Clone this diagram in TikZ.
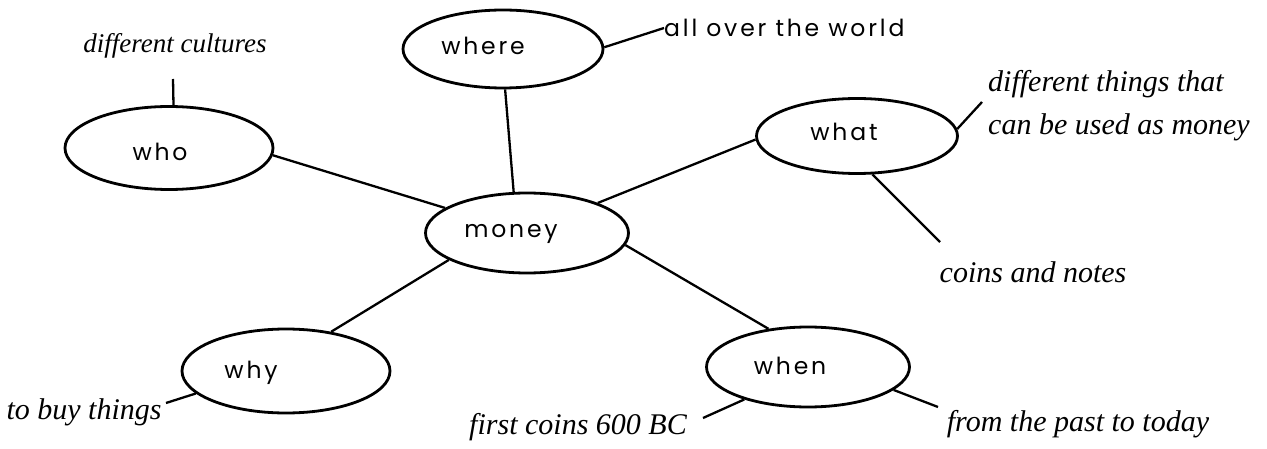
\documentclass[tikz,border=0pt]{standalone}
\usepackage{fontspec}
\setmainfont{Liberation Serif}
\newfontfamily\hand[LetterSpace=12]{Poppins}
\usetikzlibrary{shapes.geometric}
\begin{document}
\begin{tikzpicture}[x=1pt,y=-1pt,
  bubble/.style={draw,ellipse,line width=2.8pt,inner sep=0pt},
  hw/.style={font=\hand\fontsize{23.5}{26}\selectfont,inner sep=0pt},
  lab/.style={font=\itshape\fontsize{30}{43}\selectfont,inner sep=0pt},
  link/.style={line width=2.3pt}]
\useasboundingbox (0,0) rectangle (1267,449);
% bubbles
\node[bubble,minimum width=200pt,minimum height=78pt] (where) at (503,49) {};
\node[bubble,minimum width=208pt,minimum height=83pt] (who) at (169,148) {};
\node[bubble,minimum width=201pt,minimum height=75pt] (what) at (857,136) {};
\node[bubble,minimum width=203pt,minimum height=80pt] (money) at (527,233) {};
\node[bubble,minimum width=208pt,minimum height=84pt] (why) at (286,371) {};
\node[bubble,minimum width=203pt,minimum height=80pt] (when) at (808,367) {};
% bubble texts
\node[hw] (twhere) at (483,46) {where};
\node[hw] (twho) at (160,152) {who};
\node[hw] (twhat) at (844,132) {what};
\node[hw] (tmoney) at (511,234) {money};
\node[hw] (twhy) at (251,373) {why};
\node[hw] (twhen) at (790,366) {when};
% leaf texts
\node[hw,anchor=west] (world) at (664,28) {all over the world};
\node[lab,font=\itshape\fontsize{27}{30}\selectfont] (cultures) at (175,46) {different cultures};
\node[lab,anchor=west,align=left] (things) at (988,106) {different things that\\can be used as money};
\node[lab] (coins) at (1033,272) {coins and notes};
\node[lab] (buy) at (84,412) {to buy things};
\node[lab] (first) at (578,427) {first coins 600 BC};
\node[lab] (past) at (1078,424) {from the past to today};
% free ends
\coordinate (c1) at (173,79);
\coordinate (c2) at (982,102);
\coordinate (c3) at (940,242);
\coordinate (c4) at (166,403);
\coordinate (c5) at (703,418);
\coordinate (c6) at (938,407);
% main links
\draw[link] (who.-4.4) -- (money.163.7);
\draw[link] (where.-87) -- (money.108);
\draw[link] (what.182) -- (money.23);
\draw[link] (money.199.8) -- (why.41.7);
\draw[link] (money.-7) -- (when.136);
% leaf links
\draw[link] (where.1) -- (world.west);
\draw[link] (who.84.4) -- (c1);
\draw[link] (what.4.5) -- (c2);
\draw[link] (what.-68.5) -- (c3);
\draw[link] (why.194.5) -- (c4);
\draw[link] (when.207) -- (c5);
\draw[link] (when.-15.4) -- (c6);
\end{tikzpicture}
\end{document}
